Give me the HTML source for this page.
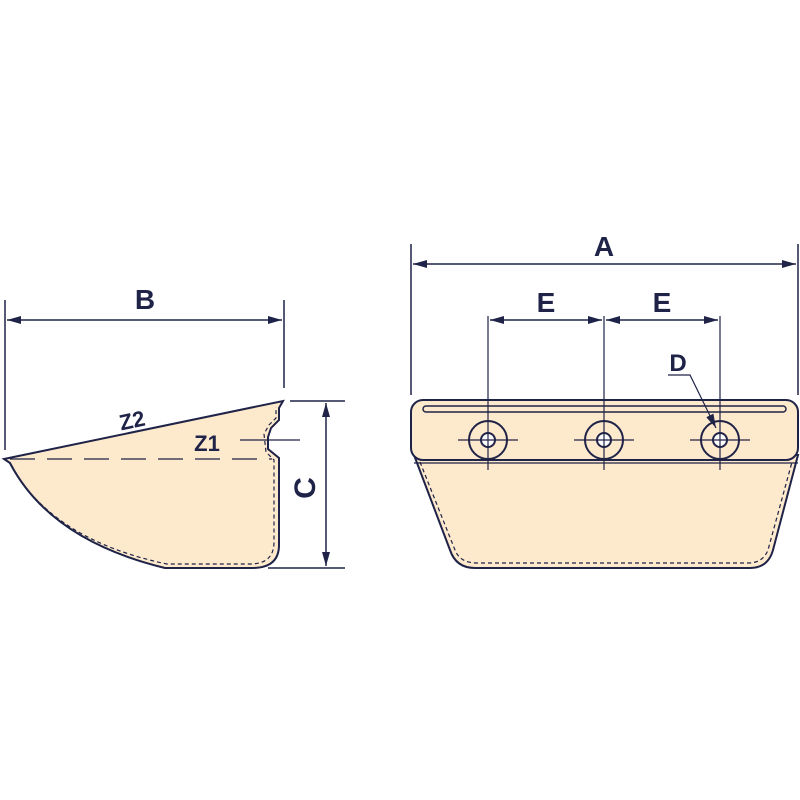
<!DOCTYPE html><html><head><style>body{margin:0;background:#fff}svg{display:block}text{font-family:"Liberation Sans",sans-serif;font-weight:bold;fill:#1f2347}</style></head><body>
<svg width="800" height="800" viewBox="0 0 800 800" xmlns="http://www.w3.org/2000/svg">
<defs><marker id="a" markerWidth="14" markerHeight="8" refX="14" refY="4" orient="auto" markerUnits="userSpaceOnUse"><path d="M0,0L14,4L0,8z" fill="#1f2347"/></marker></defs>
<g stroke="#1f2347" fill="none" stroke-width="1.5">
<!-- left shape -->
<path d="M4,459 L283,401 L279,408 L279,420 L271,428 L268,437 L268,449 L279,458 L279,545 Q279,568 252,568 L165,568 Q50,540 10,463 Z" fill="#fde9cc" stroke-width="2"/>
<path d="M10,464 Q52,540 167,564 L250,564 Q274,564 274,542 L274,460 L266,452 L264,434 L269,425 L276,418 L276,407" stroke-dasharray="4,3" stroke-width="1.2"/>
<line x1="10" y1="459" x2="272" y2="459" stroke-dasharray="25,12" stroke-width="1.2"/>
<line x1="240" y1="440" x2="300" y2="440" stroke-width="1.2"/>
<!-- B -->
<line x1="5" y1="300" x2="5" y2="450"/><line x1="284" y1="300" x2="284" y2="388"/>
<line x1="144" y1="320" x2="7" y2="320" marker-end="url(#a)"/><line x1="144" y1="320" x2="282" y2="320" marker-end="url(#a)"/>
<!-- C -->
<line x1="290" y1="401" x2="345" y2="401"/><line x1="268" y1="568" x2="345" y2="568"/>
<line x1="326" y1="485" x2="326" y2="403" marker-end="url(#a)"/><line x1="326" y1="485" x2="326" y2="566" marker-end="url(#a)"/>
<!-- right body -->
<path d="M414,455 L450,550 Q456,568 475,568 L750,568 Q768,568 773,550 L798,455 Z" fill="#fde9cc" stroke-width="2"/>
<path d="M420,462 L455,550 Q460,563 477,563 L748,563 Q763,563 768,550 L792,462" stroke-dasharray="4,3" stroke-width="1.2"/>
<rect x="411" y="400" width="387" height="60" rx="12" fill="#fde9cc" stroke-width="2"/>
<rect x="423" y="406" width="363" height="6" rx="3" stroke-width="1.5"/>
<line x1="414" y1="463" x2="798" y2="463" stroke-width="1.2"/>
<g stroke-width="2">
<circle cx="488" cy="440" r="19"/><circle cx="488" cy="440" r="7" fill="#fff"/>
<circle cx="604" cy="440" r="19"/><circle cx="604" cy="440" r="7" fill="#fff"/>
<circle cx="720" cy="440" r="19"/><circle cx="720" cy="440" r="7" fill="#fff"/>
</g>
<g stroke-width="1.2">
<line x1="458" y1="440" x2="518" y2="440"/><line x1="574" y1="440" x2="634" y2="440"/><line x1="690" y1="440" x2="750" y2="440"/>
<line x1="488" y1="316" x2="488" y2="470"/><line x1="604" y1="316" x2="604" y2="470"/><line x1="720" y1="316" x2="720" y2="470"/>
</g>
<!-- A -->
<line x1="411" y1="244" x2="411" y2="395"/><line x1="798" y1="244" x2="798" y2="395"/>
<line x1="604" y1="264" x2="413" y2="264" marker-end="url(#a)"/><line x1="604" y1="264" x2="796" y2="264" marker-end="url(#a)"/>
<!-- E -->
<line x1="546" y1="320" x2="490" y2="320" marker-end="url(#a)"/><line x1="546" y1="320" x2="602" y2="320" marker-end="url(#a)"/>
<line x1="662" y1="320" x2="606" y2="320" marker-end="url(#a)"/><line x1="662" y1="320" x2="718" y2="320" marker-end="url(#a)"/>
<!-- D -->
<polyline points="668,375 690,375 716,428" marker-end="url(#a)" stroke-width="1.2"/>
</g>
<text x="145" y="309" font-size="28" text-anchor="middle">B</text>
<text x="132" y="428" font-size="22" text-anchor="middle" transform="rotate(-12 132 420)">Z2</text>
<text x="207" y="451" font-size="22" text-anchor="middle">Z1</text>
<text x="305" y="498" font-size="30" text-anchor="middle" transform="rotate(-90 305 488)">C</text>
<text x="604" y="256" font-size="28" text-anchor="middle">A</text>
<text x="546" y="312" font-size="28" text-anchor="middle">E</text>
<text x="662" y="312" font-size="28" text-anchor="middle">E</text>
<text x="678" y="371" font-size="24" text-anchor="middle">D</text>
</svg></body></html>
